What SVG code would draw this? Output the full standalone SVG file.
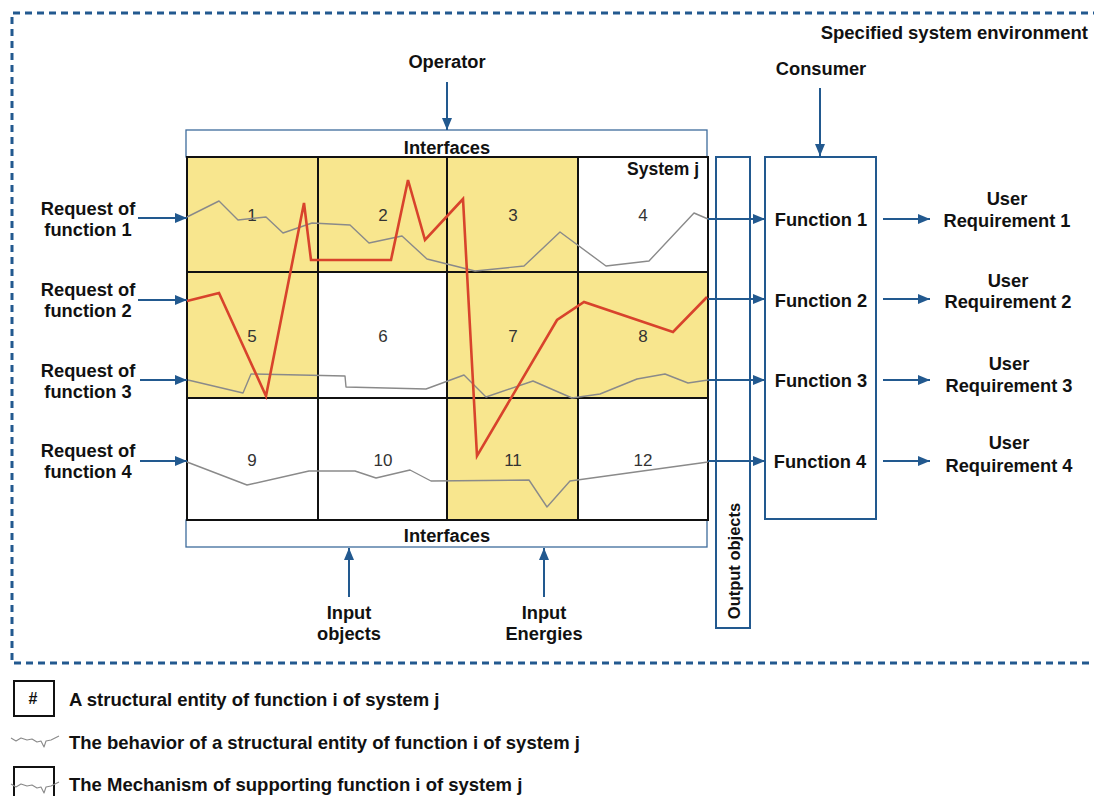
<svg xmlns="http://www.w3.org/2000/svg" width="1094" height="796" viewBox="0 0 1094 796">
<defs>
<style>
text{font-family:"Liberation Sans",Arial,sans-serif;fill:#111}
.lb{font-size:18.3px;font-weight:bold}
.lg{font-size:18.5px;font-weight:bold}
.c{text-anchor:middle}
.num{font-size:17px;fill:#333;text-anchor:middle}
.cellY{fill:#f8e68e;stroke:#111;stroke-width:2}
.cellW{fill:#fff;stroke:#111;stroke-width:2}
.blueBox{fill:#fff;stroke:#22598f;stroke-width:2}
.ifBox{fill:#fff;stroke:#3e6c9c;stroke-width:1.3}
.arr{stroke:#22598f;stroke-width:2;fill:none;marker-end:url(#ah)}
.beh{fill:none;stroke:#8a8a8a;stroke-width:1.4;stroke-linejoin:round}
.mech{fill:none;stroke:#d8432c;stroke-width:2.6;stroke-linejoin:miter}
</style>
<marker id="ah" viewBox="0 0 12 10" refX="12" refY="5" markerWidth="12" markerHeight="10" markerUnits="userSpaceOnUse" orient="auto">
<path d="M0,0 L12,5 L0,10 z" fill="#22598f"/>
</marker>
</defs>
<rect width="1094" height="796" fill="#fff"/>

<g id="environment">
<path d="M1100,13 H12 V663 H1100" fill="none" stroke="#22598f" stroke-width="3" stroke-dasharray="7,5"/>
<text class="lg" x="1088" y="39" text-anchor="end">Specified system environment</text>
</g>

<g id="interfaces-top">
<rect class="ifBox" x="186" y="130" width="521" height="27"/>
<text class="lb c" x="447" y="154">Interfaces</text>
</g>
<g id="interfaces-bottom">
<rect class="ifBox" x="186" y="520" width="521" height="27"/>
<text class="lb c" x="447" y="542">Interfaces</text>
</g>

<g id="system-j">
<g id="cell-1"><rect class="cellY" x="187" y="157" width="131" height="115"/><text class="num" x="252" y="221">1</text></g>
<g id="cell-2"><rect class="cellY" x="318" y="157" width="129" height="115"/><text class="num" x="383" y="221">2</text></g>
<g id="cell-3"><rect class="cellY" x="447" y="157" width="131" height="115"/><text class="num" x="513" y="221">3</text></g>
<g id="cell-4"><rect class="cellW" x="578" y="157" width="130" height="115"/><text class="num" x="643" y="221">4</text></g>
<g id="cell-5"><rect class="cellY" x="187" y="272" width="131" height="126"/><text class="num" x="252" y="342">5</text></g>
<g id="cell-6"><rect class="cellW" x="318" y="272" width="129" height="126"/><text class="num" x="383" y="342">6</text></g>
<g id="cell-7"><rect class="cellY" x="447" y="272" width="131" height="126"/><text class="num" x="513" y="342">7</text></g>
<g id="cell-8"><rect class="cellY" x="578" y="272" width="130" height="126"/><text class="num" x="643" y="342">8</text></g>
<g id="cell-9"><rect class="cellW" x="187" y="398" width="131" height="122"/><text class="num" x="252" y="466">9</text></g>
<g id="cell-10"><rect class="cellW" x="318" y="398" width="129" height="122"/><text class="num" x="383" y="466">10</text></g>
<g id="cell-11"><rect class="cellY" x="447" y="398" width="131" height="122"/><text class="num" x="513" y="466">11</text></g>
<g id="cell-12"><rect class="cellW" x="578" y="398" width="130" height="122"/><text class="num" x="643" y="466">12</text></g>
<text class="lb" x="699" y="175" text-anchor="end" style="font-size:17.5px">System j</text>
</g>

<g id="behaviors">
<polyline class="beh" points="187,217 219,201 238,220 266,217 283,233 312,223 350,225 369,243 402,236 427,259 475,271 524,266 560,232 606,266 649,261 694,213 708,219"/>
<polyline class="beh" points="188,380 243,393 251,374 345,376 346,387 426,389 464,375 486,397 533,381 572,398 600,394 637,379 665,374 688,383 708,380"/>
<polyline class="beh" points="187,462 247,485 309,471 355,471 376,478 410,470 431,481 529,480 547,507 570,481 708,462"/>
</g>
<g id="mechanism">
<polyline class="mech" points="187,301 219,293 266,396 304,203 311,260 391,260 408,180 425,240 463,199 477,456 557,320 584,302 673,332 707,297"/>
</g>

<g id="output-objects">
<rect class="blueBox" x="716" y="157" width="34" height="471"/>
<text class="lb c" transform="translate(740,561) rotate(-90)" style="font-size:16.5px">Output objects</text>
</g>

<g id="functions">
<rect class="blueBox" x="765" y="157" width="111" height="362"/>
<text class="lb c" x="821" y="226">Function 1</text>
<text class="lb c" x="821" y="307">Function 2</text>
<text class="lb c" x="821" y="387">Function 3</text>
<text class="lb c" x="820" y="468">Function 4</text>
</g>

<g id="operator"><text class="lb c" x="447" y="68">Operator</text></g>
<g id="consumer"><text class="lb c" x="821" y="75">Consumer</text></g>
<g id="input-objects"><text class="lb c" x="349" y="619">Input</text><text class="lb c" x="349" y="640">objects</text></g>
<g id="input-energies"><text class="lb c" x="544" y="619">Input</text><text class="lb c" x="544" y="640">Energies</text></g>

<g id="requests">
<text class="lb c" x="88" y="215">Request of</text><text class="lb c" x="88" y="236">function 1</text>
<text class="lb c" x="88" y="296">Request of</text><text class="lb c" x="88" y="317">function 2</text>
<text class="lb c" x="88" y="377">Request of</text><text class="lb c" x="88" y="398">function 3</text>
<text class="lb c" x="88" y="457">Request of</text><text class="lb c" x="88" y="478">function 4</text>
</g>

<g id="user-requirements">
<text class="lb c" x="1007" y="205">User</text><text class="lb c" x="1007" y="227">Requirement 1</text>
<text class="lb c" x="1008" y="287">User</text><text class="lb c" x="1008" y="308">Requirement 2</text>
<text class="lb c" x="1009" y="370">User</text><text class="lb c" x="1009" y="392">Requirement 3</text>
<text class="lb c" x="1009" y="449">User</text><text class="lb c" x="1009" y="472">Requirement 4</text>
</g>

<g id="connectors">
<path class="arr" d="M447,82 V130"/>
<path class="arr" d="M820,88 V156"/>
<path class="arr" d="M349,597 V548"/>
<path class="arr" d="M544,597 V548"/>
<path class="arr" d="M138,218 H187"/>
<path class="arr" d="M138,300 H187"/>
<path class="arr" d="M140,380 H187"/>
<path class="arr" d="M140,461 H187"/>
<path class="arr" d="M708,219 H765"/>
<path class="arr" d="M708,299 H765"/>
<path class="arr" d="M708,380 H765"/>
<path class="arr" d="M708,461 H765"/>
<path class="arr" d="M883,219 H930"/>
<path class="arr" d="M883,299 H930"/>
<path class="arr" d="M883,380 H930"/>
<path class="arr" d="M883,461 H930"/>
</g>

<g id="legend">
<g id="legend-entity">
<rect x="14" y="681" width="40" height="35" fill="#fff" stroke="#111" stroke-width="2"/>
<text x="33" y="704" text-anchor="middle" style="font-size:16px;font-weight:bold">#</text>
<text class="lg" x="69" y="706">A structural entity of function i of system j</text>
</g>
<g id="legend-behavior">
<polyline class="beh" style="stroke-width:1.1" points="11,738 16,741 21,738 27,740 32,739 37,742 41,741 44,747 46,741 51,740 59,736"/>
<text class="lg" x="69" y="749">The behavior of a structural entity of function i of system j</text>
</g>
<g id="legend-mechanism">
<rect x="14" y="767" width="40" height="40" fill="#fff" stroke="#111" stroke-width="2"/>
<polyline class="beh" style="stroke-width:1.1" points="11,784 16,787 21,784 27,786 32,785 37,788 41,787 44,793 46,787 51,786 59,782"/>
<text class="lg" x="69" y="791">The Mechanism of supporting function i of system j</text>
</g>
</g>
</svg>
